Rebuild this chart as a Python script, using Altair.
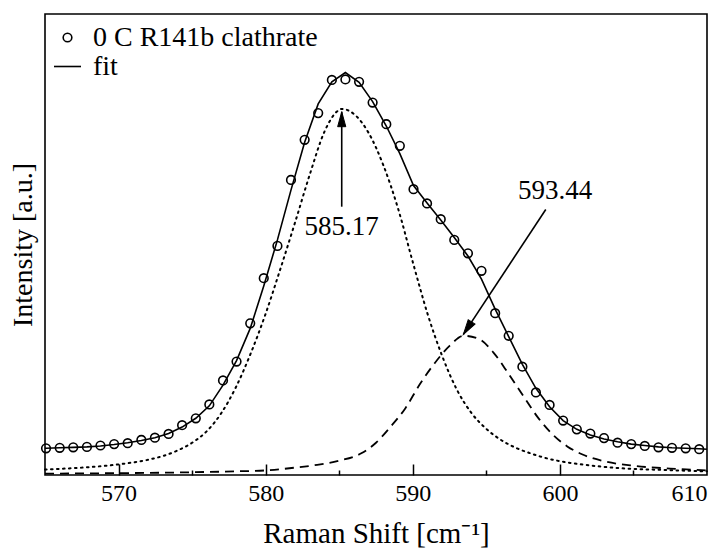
import math
import altair as alt
import pandas as pd

FONT = "Liberation Serif"

# Measured Raman spectrum: shift [cm^-1] and intensity [a.u.]
shift = [565.07, 566.00, 566.92, 567.85, 568.77, 569.70, 570.62, 571.55, 572.47, 573.40,
         574.32, 575.25, 576.17, 577.10, 578.02, 578.95, 579.87, 580.80, 581.72, 582.65,
         583.57, 584.50, 585.42, 586.35, 587.27, 588.20, 589.12, 590.05, 590.97, 591.90,
         592.82, 593.75, 594.67, 595.60, 596.52, 597.45, 598.37, 599.30, 600.22, 601.15,
         602.07, 603.00, 603.92, 604.85, 605.77, 606.70, 607.62, 608.55, 609.47]
intensity = [0.058, 0.059, 0.060, 0.061, 0.064, 0.067, 0.069, 0.076, 0.081, 0.089,
             0.108, 0.123, 0.153, 0.205, 0.246, 0.329, 0.427, 0.497, 0.640, 0.727,
             0.785, 0.857, 0.858, 0.853, 0.808, 0.761, 0.714, 0.620, 0.589, 0.555,
             0.510, 0.481, 0.443, 0.351, 0.302, 0.235, 0.179, 0.152, 0.118, 0.099,
             0.090, 0.080, 0.070, 0.067, 0.063, 0.060, 0.059, 0.058, 0.056]

# Fitted envelope (two bands plus background)
fit_shift = [565.0] + shift + [610.0]
fit_intensity = [0.058, 0.058, 0.059, 0.060, 0.061, 0.063, 0.066, 0.070, 0.075, 0.081, 0.090,
                 0.104, 0.123, 0.150, 0.195, 0.248, 0.318, 0.410, 0.510, 0.618, 0.722,
                 0.805, 0.853, 0.873, 0.852, 0.810, 0.757, 0.697, 0.628, 0.590, 0.553,
                 0.515, 0.475, 0.425, 0.360, 0.300, 0.240, 0.188, 0.148, 0.118, 0.099,
                 0.087, 0.078, 0.072, 0.067, 0.064, 0.061, 0.059, 0.058, 0.057, 0.056]

# Band centred at 585.17 cm^-1 (dotted)
band1_shift = [565.0, 567.5, 570.0, 572.0, 573.0, 574.0, 575.0, 576.0, 577.0, 578.0,
               579.0, 580.0, 581.0, 582.0, 583.0, 584.0, 585.0, 585.17, 586.0, 587.0,
               588.0, 589.0, 590.0, 591.0, 592.0, 593.0, 594.0, 595.0, 596.0, 597.0,
               598.0, 599.0, 600.0, 602.0, 604.0, 607.0, 610.0]
band1_intensity = [0.012, 0.016, 0.023, 0.033, 0.041, 0.053, 0.070, 0.095, 0.135, 0.192,
                   0.265, 0.350, 0.447, 0.548, 0.652, 0.745, 0.792, 0.794, 0.783, 0.742,
                   0.672, 0.578, 0.462, 0.350, 0.258, 0.185, 0.134, 0.100, 0.076, 0.059,
                   0.047, 0.037, 0.030, 0.021, 0.015, 0.011, 0.008]

# Band centred at 593.44 cm^-1 (dashed)
band2_shift = [565.0, 570.0, 575.0, 578.0, 580.0, 582.0, 583.5, 585.0, 586.5, 587.5,
               588.5, 589.5, 590.5, 591.5, 592.5, 593.44, 594.5, 595.5, 596.5, 597.5,
               598.5, 599.5, 600.5, 601.5, 603.0, 605.0, 607.5, 610.0]
band2_intensity = [0.003, 0.004, 0.006, 0.008, 0.010, 0.016, 0.022, 0.031, 0.047, 0.070,
                   0.105, 0.145, 0.198, 0.243, 0.280, 0.302, 0.295, 0.265, 0.220, 0.172,
                   0.125, 0.088, 0.062, 0.045, 0.030, 0.020, 0.014, 0.010]

# Peak annotations: label text, arrow tip (at the band maximum) and arrow tail
peak_text = ["585.17", "593.44"]
peak_pos = [585.17, 593.44]
tip_y = [0.788, 0.305]
tail_x = [585.17, 599.04]
tail_y = [0.582, 0.576]
text_x = [585.17, 599.67]
text_y = [0.539, 0.615]

legend_names = ["0 C R141b clathrate", "fit"]
x_ticks = [570, 580, 590, 600, 610]
x_minor = [575, 585, 595, 605]

W, H = 662, 461
X_MIN, X_MAX = 565, 610

xscale = alt.Scale(domain=[X_MIN, X_MAX], nice=False, zero=False)
yscale = alt.Scale(domain=[0, 1], nice=False, zero=False)
yaxis = alt.Axis(title="Intensity [a.u.]", labels=False, ticks=False, domain=False,
                 grid=False, titleFont=FONT, titleFontSize=28, titleFontWeight="normal",
                 titleColor="black", titlePadding=8)
Y = alt.Y("intensity:Q", scale=yscale, axis=yaxis)


def X(axis=None):
    return alt.X("shift:Q", scale=xscale, axis=axis)


main_xaxis = alt.Axis(values=x_ticks, format="d", ticks=False, tickSize=0, domain=False,
                      grid=False, labelFont=FONT, labelFontSize=24, labelColor="black",
                      labelPadding=6, title="Raman Shift [cm⁻¹]", titleFont=FONT,
                      titleFontSize=29, titleFontWeight="normal", titleColor="black",
                      titlePadding=14, orient="bottom")
major_tick_axis = alt.Axis(values=x_ticks[:-1], labels=False, domain=False, grid=False,
                           tickSize=11, tickColor="black", tickWidth=1.5, offset=-11,
                           title=None, orient="bottom")
minor_tick_axis = alt.Axis(values=x_minor, labels=False, domain=False, grid=False,
                           tickSize=5, tickColor="black", tickWidth=1.5, offset=-5,
                           title=None, orient="bottom")

pts_df = pd.DataFrame({"shift": shift, "intensity": intensity, "series": legend_names[0]})
fit_df = pd.DataFrame({"shift": fit_shift, "intensity": fit_intensity})
b1_df = pd.DataFrame({"shift": band1_shift, "intensity": band1_intensity})
b2_df = pd.DataFrame({"shift": band2_shift, "intensity": band2_intensity})

# Arrow shafts: tail -> tip
shaft_rows = []
for i in range(2):
    shaft_rows.append({"arrow": i, "ord": 0, "shift": tail_x[i], "intensity": tail_y[i]})
    shaft_rows.append({"arrow": i, "ord": 1, "shift": peak_pos[i], "intensity": tip_y[i]})
shaft_df = pd.DataFrame(shaft_rows)

# Arrow heads rotated along the shaft direction (pixel space)
px_per_x = W / (X_MAX - X_MIN)
px_per_y = H / 1.0
angles = []
for i in range(2):
    dx = (peak_pos[i] - tail_x[i]) * px_per_x
    dy = (tail_y[i] - tip_y[i]) * px_per_y  # screen y grows downward
    ang = math.degrees(math.atan2(dx, -dy)) % 360
    angles.append(round(ang, 2))
head_df = pd.DataFrame({"shift": peak_pos, "intensity": tip_y, "angle": angles})
text_df = pd.DataFrame({"shift": text_x, "intensity": text_y, "label": peak_text})

CIRCLE = "M-0.32,0A0.32,0.32 0 1,0 0.32,0A0.32,0.32 0 1,0 -0.32,0Z"
DASH = "M-1,0L1,0"
HEAD = "M0,0L0.6,2.2L-0.6,2.2Z"

band1 = alt.Chart(b1_df).mark_line(
    color="black", strokeWidth=2, strokeDash=[1.6, 4.4], strokeCap="round",
    interpolate="monotone"
).encode(x=X(major_tick_axis), y=Y)

band2 = alt.Chart(b2_df).mark_line(
    color="black", strokeWidth=1.8, strokeDash=[9, 6], interpolate="monotone"
).encode(x=X(minor_tick_axis), y=Y)

fit = alt.Chart(fit_df).mark_line(color="black", strokeWidth=1.6).encode(x=X(None), y=Y)

points = alt.Chart(pts_df).mark_point(
    filled=False, color="black", size=729, strokeWidth=1.6, opacity=1
).encode(
    x=X(main_xaxis), y=Y,
    shape=alt.Shape(
        "series:N",
        scale=alt.Scale(domain=legend_names, range=[CIRCLE, DASH]),
        legend=alt.Legend(
            title=None, orient="none", legendX=8, legendY=9, padding=0,
            symbolSize=729, symbolStrokeWidth=1.6, symbolStrokeColor="black",
            symbolFillColor="transparent", labelFont=FONT, labelFontSize=28,
            labelColor="black", labelOffset=11, rowPadding=0, labelLimit=400,
        ),
    ),
)

shafts = alt.Chart(shaft_df).mark_line(color="black", strokeWidth=1.6).encode(
    x=X(None), y=Y, detail="arrow:N", order="ord:Q"
)

heads = alt.Chart(head_df).mark_point(
    shape=HEAD, filled=True, fill="black", stroke="black", strokeWidth=1,
    size=185, opacity=1, fillOpacity=1
).encode(x=X(None), y=Y, angle=alt.Angle("angle:Q", scale=None))

labels = alt.Chart(text_df).mark_text(
    font=FONT, fontSize=27, color="black", align="center", baseline="middle"
).encode(x=X(None), y=Y, text="label:N")

chart = alt.layer(band1, band2, fit, points, shafts, heads, labels).resolve_axis(
    x="independent", y="shared"
).properties(
    width=W, height=H,
    padding={"left": 45, "top": 14, "right": 20, "bottom": 73},
    autosize=alt.AutoSizeParams(type="none"),
    background="white",
).configure_view(
    stroke="black", strokeWidth=1.6
).configure_axis(
    labelFont=FONT, titleFont=FONT
).configure_legend(
    labelFont=FONT
).configure_text(font=FONT)

chart.save("out.html", embed_options={"renderer": "svg", "actions": False})
